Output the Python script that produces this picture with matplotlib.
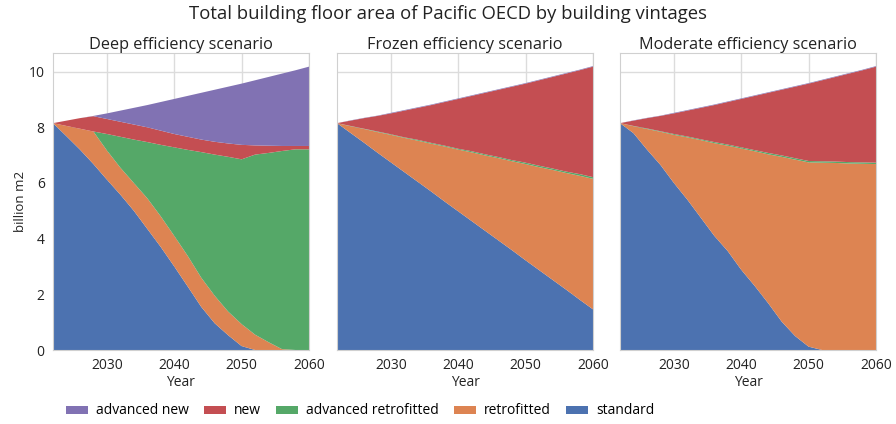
import matplotlib
matplotlib.use("Agg")
import matplotlib.pyplot as plt
from matplotlib.patches import Patch

plt.rcParams['font.family'] = ['Open Sans', 'DejaVu Sans']

years = [2022, 2024, 2026, 2028, 2030, 2032, 2034, 2036, 2038, 2040,
         2042, 2044, 2046, 2048, 2050, 2052, 2054, 2056, 2058, 2060]

labels = ["standard", "retrofitted", "advanced retrofitted", "new", "advanced new"]
colors = ["#4C72B0", "#DD8452", "#55A868", "#C44E52", "#8172B3"]

titles = ["Deep efficiency scenario", "Frozen efficiency scenario", "Moderate efficiency scenario"]

# Deep efficiency scenario (billion m2)
deep_standard = [8.15, 7.68, 7.20, 6.68, 6.12, 5.58, 5.00, 4.35, 3.70, 3.00,
                 2.28, 1.55, 0.96, 0.53, 0.14, 0, 0, 0, 0, 0]
deep_retrofitted = [0, 0.37, 0.75, 1.17, 1.05, 0.97, 1.00, 1.10, 1.10, 1.10,
                    1.10, 1.05, 0.99, 0.85, 0.79, 0.55, 0.28, 0.03, 0, 0]
deep_adv_retrofitted = [0, 0, 0, 0, 0.59, 1.11, 1.56, 2.02, 2.57, 3.18,
                        3.81, 4.51, 5.07, 5.56, 5.92, 6.47, 6.80, 7.12, 7.21, 7.21]
deep_new = [0, 0.19, 0.38, 0.55, 0.54, 0.54, 0.54, 0.53, 0.51, 0.48,
            0.47, 0.45, 0.46, 0.48, 0.52, 0.33, 0.26, 0.18, 0.12, 0.12]
deep_adv_new = [0, 0, 0, 0.01, 0.20, 0.40, 0.60, 0.80, 1.03, 1.26,
                1.47, 1.68, 1.87, 2.04, 2.20, 2.34, 2.47, 2.60, 2.72, 2.85]

# Frozen efficiency scenario
frozen_standard = [8.15, 7.80, 7.45, 7.09, 6.74, 6.39, 6.04, 5.69, 5.33, 4.98,
                   4.63, 4.28, 3.93, 3.58, 3.22, 2.87, 2.52, 2.17, 1.81, 1.46]
frozen_retrofitted = [0, 0.24, 0.49, 0.74, 0.99, 1.23, 1.48, 1.72, 1.98, 2.22,
                      2.47, 2.71, 2.96, 3.20, 3.46, 3.70, 3.95, 4.19, 4.45, 4.69]
frozen_adv_retrofitted = [0, 0.01, 0.01, 0.02, 0.02, 0.02, 0.03, 0.03, 0.03, 0.03,
                          0.04, 0.04, 0.04, 0.04, 0.05, 0.05, 0.05, 0.05, 0.06, 0.06]
frozen_new = [0, 0.19, 0.38, 0.56, 0.75, 0.96, 1.15, 1.36, 1.57, 1.79,
              1.99, 2.21, 2.42, 2.64, 2.84, 3.07, 3.29, 3.52, 3.73, 3.97]
frozen_adv_new = [0, 0.01, 0.01, 0.01, 0.02, 0.02, 0.02, 0.02, 0.02, 0.02,
                  0.02, 0.02, 0.02, 0.02, 0.02, 0.02, 0.02, 0.02, 0.02, 0.02]

# Moderate efficiency scenario
moderate_standard = [8.15, 7.79, 7.20, 6.65, 6.00, 5.40, 4.75, 4.10, 3.55, 2.88,
                     2.30, 1.68, 1.02, 0.50, 0.12, 0, 0, 0, 0, 0]
moderate_retrofitted = [0, 0.25, 0.74, 1.19, 1.73, 2.24, 2.79, 3.33, 3.79, 4.36,
                        4.84, 5.35, 5.92, 6.34, 6.62, 6.73, 6.72, 6.70, 6.69, 6.68]
moderate_adv_retrofitted = [0, 0.01, 0.02, 0.02, 0.03, 0.03, 0.03, 0.04, 0.04, 0.04,
                            0.04, 0.05, 0.05, 0.05, 0.05, 0.05, 0.05, 0.05, 0.05, 0.05]
moderate_new = [0, 0.19, 0.37, 0.55, 0.74, 0.93, 1.13, 1.33, 1.53, 1.74,
                1.95, 2.16, 2.36, 2.57, 2.78, 2.91, 3.04, 3.18, 3.31, 3.45]
moderate_adv_new = [0, 0.01, 0.01, 0.01, 0.02, 0.02, 0.02, 0.02, 0.02, 0.02,
                    0.02, 0.02, 0.02, 0.02, 0.02, 0.02, 0.02, 0.02, 0.02, 0.02]

scenarios = [
    [deep_standard, deep_retrofitted, deep_adv_retrofitted, deep_new, deep_adv_new],
    [frozen_standard, frozen_retrofitted, frozen_adv_retrofitted, frozen_new, frozen_adv_new],
    [moderate_standard, moderate_retrofitted, moderate_adv_retrofitted, moderate_new, moderate_adv_new],
]

xticks = [2030, 2040, 2050, 2060]
yticks = [0, 2, 4, 6, 8, 10]

fig = plt.figure(figsize=(8.96, 4.24), dpi=100)
lefts = [53, 337, 620]
width = 256
bottom_px, top_px = 350, 53
axes = []
for i, left in enumerate(lefts):
    ax = fig.add_axes([left / 896, 1 - bottom_px / 424, width / 896, (bottom_px - top_px) / 424])
    axes.append(ax)
    ax.set_axisbelow(True)
    ax.grid(True, color="#dcdcdc", linewidth=1.0)
    ax.stackplot(years, *scenarios[i], colors=colors, linewidth=0)
    ax.set_xlim(2022, 2060)
    ax.set_ylim(0, 10.67)
    ax.set_xticks(xticks)
    ax.set_yticks(yticks)
    ax.tick_params(length=0, labelsize=10, colors="#222222", pad=6)
    if i > 0:
        ax.tick_params(labelleft=False)
    for s in ax.spines.values():
        s.set_color("#d0d0d0")
        s.set_linewidth(0.8)
    ax.set_title(titles[i], fontsize=11.7, pad=3, color="#222222")
    ax.set_xlabel("Year", fontsize=10, color="#222222", labelpad=1)

axes[0].set_ylabel("billion m2", fontsize=9.5, color="#222222", labelpad=1.5)

fig.suptitle("Total building floor area of Pacific OECD by building vintages",
             fontsize=13.3, y=1 - 14 / 424, va="center", color="#222222")

order = [4, 3, 2, 1, 0]
handles = [Patch(facecolor=colors[k], edgecolor="none") for k in order]
fig.legend(handles, [labels[k] for k in order], loc="center",
           bbox_to_anchor=(0.402, 1 - 411 / 424), ncol=5, frameon=False, fontsize=10,
           handlelength=1.6, handleheight=0.5, columnspacing=1.1, handletextpad=0.55)

fig.savefig("out.png", dpi=100, facecolor="white")
